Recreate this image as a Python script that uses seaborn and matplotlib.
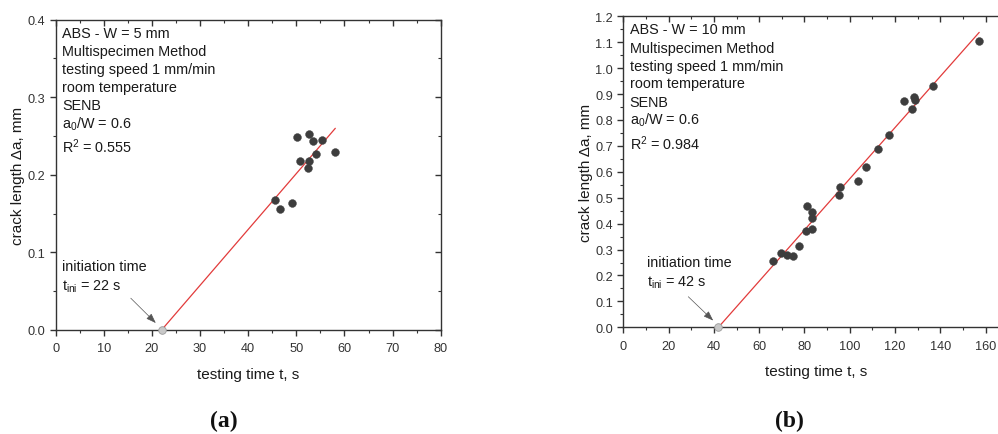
import matplotlib
matplotlib.use("Agg")
import matplotlib.pyplot as plt
import seaborn as sns
import pandas as pd
from matplotlib.ticker import MultipleLocator

# ---------------- data ----------------
# Panel (a): ABS, W = 5 mm
t_a = [45.6, 46.6, 49.0, 50.1, 50.7, 52.6, 53.5, 52.4, 52.6, 54.0, 55.4, 58.1]
da_a = [0.168, 0.156, 0.164, 0.249, 0.218, 0.253, 0.244, 0.209, 0.218, 0.227, 0.245, 0.230]
fit_t_a = [22.0, 58.1]
fit_y_a = [0.0, 0.260]
tini_a = 22

# Panel (b): ABS, W = 10 mm
t_b = [66.2, 69.6, 72.4, 75.1, 77.5, 80.8, 83.2, 81.0, 83.2, 83.2, 95.2, 95.8,
       103.5, 107.2, 112.5, 117.2, 124.0, 127.4, 128.2, 128.9, 136.6, 156.9]
da_b = [0.255, 0.288, 0.280, 0.276, 0.315, 0.373, 0.379, 0.467, 0.446, 0.422, 0.512, 0.540,
        0.564, 0.620, 0.687, 0.741, 0.872, 0.843, 0.890, 0.877, 0.931, 1.105]
fit_t_b = [42.0, 157.2]
fit_y_b = [0.0, 1.138]
tini_b = 42

info_a = ["ABS - W = 5 mm", "Multispecimen Method", "testing speed 1 mm/min",
          "room temperature", "SENB", r"a$_0$/W = 0.6", r"R$^2$ = 0.555"]
info_b = ["ABS - W = 10 mm", "Multispecimen Method", "testing speed 1 mm/min",
          "room temperature", "SENB", r"a$_0$/W = 0.6", r"R$^2$ = 0.984"]

# ---------------- style ----------------
sns.set_theme(style="ticks")
plt.rcParams['font.family'] = ['Liberation Sans', 'DejaVu Sans']
plt.rcParams['mathtext.fontset'] = 'custom'
plt.rcParams['mathtext.rm'] = 'Liberation Sans'
plt.rcParams['mathtext.it'] = 'Liberation Sans:italic'
plt.rcParams['mathtext.default'] = 'regular'

W, H = 998, 435
fig = plt.figure(figsize=(W / 100, H / 100), dpi=100)

def px_axes(l, r, t, b):
    return fig.add_axes([l / W, (H - b) / H, (r - l) / W, (b - t) / H])

ax_a = px_axes(55.7, 440.7, 20.7, 331.0)
ax_b = px_axes(623.3, 1008.2, 17.3, 328.3)

dot_color = "#3d3d3d"
red = "#e23b3b"
text_color = "#1a1a1a"
tick_color = "#333333"


def draw(ax, t, da, fit_t, fit_y, tini, xlim, ylim, xmaj, ymaj, info, info_y,
         init_xy, arrow_start, arrow_end):
    df = pd.DataFrame({"t": t, "da": da})
    fit = pd.DataFrame({"t": fit_t, "da": fit_y})
    sns.lineplot(data=fit, x="t", y="da", ax=ax, color=red, lw=0.9, zorder=3)
    sns.scatterplot(data=df, x="t", y="da", ax=ax, color=dot_color, s=32,
                    edgecolor=dot_color, linewidth=0.3, zorder=4)
    sns.scatterplot(x=[tini], y=[0.0], ax=ax, color="#c8c8c8", s=30,
                    edgecolor="#9a9a9a", linewidth=0.6, zorder=5, clip_on=False)
    ax.set_xlim(*xlim)
    ax.set_ylim(*ylim)
    ax.xaxis.set_major_locator(MultipleLocator(xmaj))
    ax.xaxis.set_minor_locator(MultipleLocator(xmaj / 2))
    ax.yaxis.set_major_locator(MultipleLocator(ymaj))
    ax.yaxis.set_minor_locator(MultipleLocator(ymaj / 2))
    ax.yaxis.set_major_formatter(matplotlib.ticker.FormatStrFormatter("%.1f"))
    ax.tick_params(which="major", direction="out", length=4, width=1.0,
                   colors=tick_color, labelsize=9.2, labelcolor=tick_color,
                   top=False, right=False)
    ax.tick_params(axis="x", which="major", pad=5)
    ax.tick_params(which="minor", direction="out", length=2.5, width=0.8,
                   colors=tick_color, top=False, right=False)
    # mirrored inward ticks on top/right
    sec_x = ax.secondary_xaxis("top")
    sec_x.xaxis.set_major_locator(MultipleLocator(xmaj))
    sec_x.xaxis.set_minor_locator(MultipleLocator(xmaj / 2))
    sec_x.tick_params(which="major", direction="in", length=4, width=1.0,
                      colors=tick_color, labeltop=False)
    sec_x.tick_params(which="minor", direction="in", length=2.5, width=0.8,
                      colors=tick_color)
    sec_x.spines["top"].set_visible(False)
    sec_y = ax.secondary_yaxis("right")
    sec_y.yaxis.set_major_locator(MultipleLocator(ymaj))
    sec_y.yaxis.set_minor_locator(MultipleLocator(ymaj / 2))
    sec_y.tick_params(which="major", direction="in", length=4, width=1.0,
                      colors=tick_color, labelright=False)
    sec_y.tick_params(which="minor", direction="in", length=2.5, width=0.8,
                      colors=tick_color)
    sec_y.spines["right"].set_visible(False)
    for sp in ax.spines.values():
        sp.set_visible(True)
        sp.set_color("#333333")
        sp.set_linewidth(1.0)
    ax.set_xlabel("testing time t, s", fontsize=11, color=text_color, labelpad=9)
    ax.set_ylabel("crack length \u0394a, mm", fontsize=11, color=text_color, labelpad=1.5)
    for line, yy in zip(info, info_y):
        ax.text(0.017, yy, line, transform=ax.transAxes, fontsize=10.4,
                color=text_color, va="center", ha="left")
    ax.text(init_xy[0], init_xy[1], "initiation time", transform=ax.transData,
            fontsize=10.4, color=text_color, va="center", ha="left")
    ax.text(init_xy[0], init_xy[2], "t$_{ini}$ = %d s" % tini, transform=ax.transData,
            fontsize=10.4, color=text_color, va="center", ha="left")
    ax.annotate("", xy=arrow_end, xytext=arrow_start,
                arrowprops=dict(arrowstyle="-|>,head_length=0.5,head_width=0.18",
                                color="#555555", lw=0.5, shrinkA=0, shrinkB=0))


info_y_a = [0.956, 0.898, 0.840, 0.782, 0.724, 0.667, 0.593]
draw(ax_a, t_a, da_a, fit_t_a, fit_y_a, tini_a, (0, 80), (0, 0.4), 10, 0.1,
     info_a, info_y_a, (1.4, 0.083, 0.057), (15.6, 0.041), (20.8, 0.009))

info_y_b = [0.958, 0.899, 0.841, 0.784, 0.725, 0.668, 0.593]
draw(ax_b, t_b, da_b, fit_t_b, fit_y_b, tini_b, (0, 170), (0, 1.2), 20, 0.1,
     info_b, info_y_b, (10.6, 0.252, 0.177), (28.7, 0.118), (39.7, 0.026))
ax_b.spines["right"].set_visible(False)
ax_b.yaxis.set_major_locator(MultipleLocator(0.1))
ax_b.yaxis.set_minor_locator(MultipleLocator(0.05))

fig.text(224 / W, 1 - 421.7 / H, "(a)", fontsize=17, fontweight="bold",
         family="Liberation Serif", ha="center", va="center", color="#111111")
fig.text(789 / W, 1 - 421.7 / H, "(b)", fontsize=17, fontweight="bold",
         family="Liberation Serif", ha="center", va="center", color="#111111")

fig.savefig("out.png", dpi=100)
